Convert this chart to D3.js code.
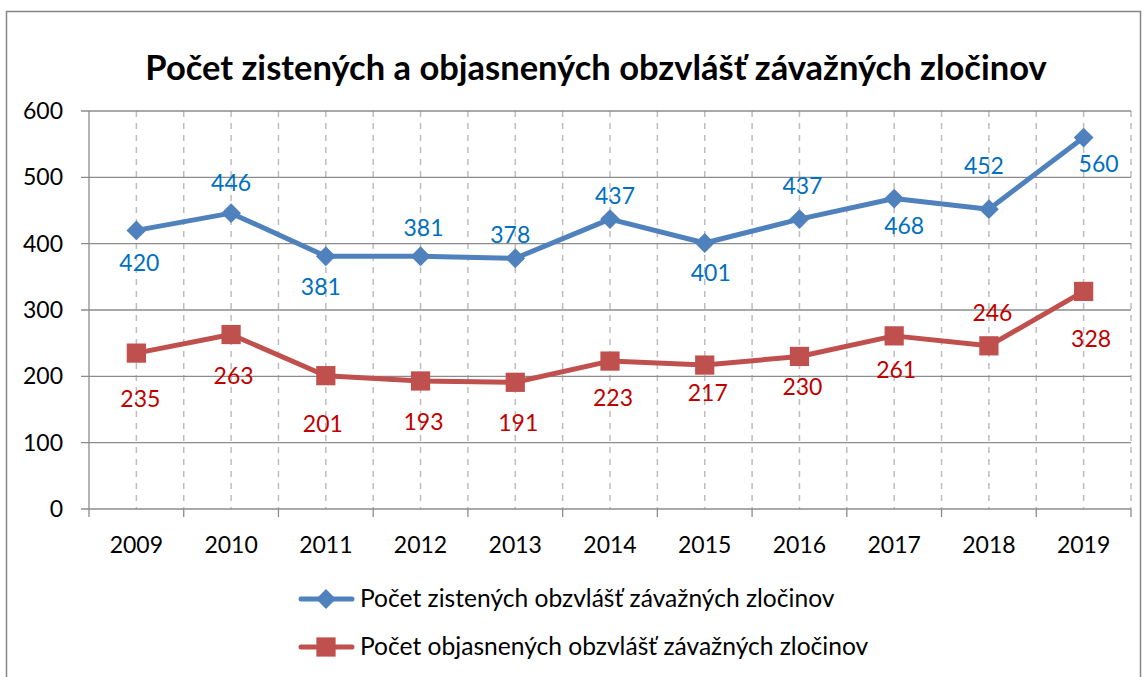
<!DOCTYPE html>
<html>
<head>
<meta charset="utf-8">
<script src="https://cdn.jsdelivr.net/npm/d3@7"></script>
<style>
  body { margin: 0; background: #fff; }
  svg text { font-family: Lato, "Open Sans", sans-serif; }
</style>
</head>
<body>
<div id="chart"></div>
<script>
const years = ["2009", "2010", "2011", "2012", "2013", "2014", "2015", "2016", "2017", "2018", "2019"];
const zistene = [420, 446, 381, 381, 378, 437, 401, 437, 468, 452, 560];
const objasnene = [235, 263, 201, 193, 191, 223, 217, 230, 261, 246, 328];
const yTicks = [0, 100, 200, 300, 400, 500, 600];
const title = "Počet zistených a objasnených obzvlášť závažných zločinov";
const seriesNames = ["Počet zistených obzvlášť závažných zločinov", "Počet objasnených obzvlášť závažných zločinov"];

// data label placement (label centre relative to its point, px) - labels were hand placed in the original
const zisteneLabelDx = [3, 0, -5, 3, -5, 5, 6, 3, 10, -5, 15];
const zisteneLabelDy = [33, -30.5, 30.5, -28, -23.5, -23, 30, -33.5, 27, -43, 26];
const objasneneLabelDx = [4, 2.5, -3, 3, 3, 3, 3, 3, 2, 3.5, 7.5];
const objasneneLabelDy = [46, 41.5, 48.5, 41.5, 40.5, 36.5, 28, 30.5, 34.5, -33, 47.5];

const width = 1145, height = 677;
const plotLeft = 89, plotRight = 1131, plotTop = 111, plotBottom = 509;

const svg = d3.select("#chart").append("svg")
    .attr("width", width)
    .attr("height", height);

// outer frame
svg.append("rect")
    .attr("x", 6.5).attr("y", 11.5)
    .attr("width", 1134).attr("height", 700)
    .attr("fill", "none")
    .attr("stroke", "#868686")
    .attr("stroke-width", 1.5);

svg.append("text")
    .attr("x", 596).attr("y", 80)
    .attr("text-anchor", "middle")
    .attr("font-size", 34.5)
    .attr("font-weight", "bold")
    .text(title);

const x = d3.scaleBand().domain(years).range([plotLeft, plotRight]);
const y = d3.scaleLinear().domain([0, 600]).range([plotBottom, plotTop]);
const cx = d => x(d) + x.bandwidth() / 2;

// vertical dashed gridlines at category centers and boundaries
const vLines = years.map(cx).concat(years.map(d => x(d)).slice(1), [plotRight]);
svg.append("g").selectAll("line").data(vLines).enter().append("line")
    .attr("x1", d => d).attr("x2", d => d)
    .attr("y1", plotTop).attr("y2", plotBottom)
    .attr("stroke", "#bdbdbd")
    .attr("stroke-width", 1.5)
    .attr("stroke-dasharray", "6,6");

// horizontal gridlines
svg.append("g").selectAll("line").data(yTicks).enter().append("line")
    .attr("x1", plotLeft - 8).attr("x2", plotRight)
    .attr("y1", d => y(d)).attr("y2", d => y(d))
    .attr("stroke", "#8c8c8c")
    .attr("stroke-width", 1.3);

// y axis line
svg.append("line")
    .attr("x1", plotLeft).attr("x2", plotLeft)
    .attr("y1", plotTop).attr("y2", plotBottom + 8)
    .attr("stroke", "#8c8c8c").attr("stroke-width", 1.3);

// x axis ticks at boundaries
svg.append("g").selectAll("line").data(years.slice(1).map(d => x(d)).concat([plotRight])).enter().append("line")
    .attr("x1", d => d).attr("x2", d => d)
    .attr("y1", plotBottom).attr("y2", plotBottom + 8)
    .attr("stroke", "#8c8c8c").attr("stroke-width", 1.3);

svg.append("g").selectAll("text").data(yTicks).enter().append("text")
    .attr("x", plotLeft - 26).attr("y", d => y(d) + 8)
    .attr("text-anchor", "end")
    .attr("font-size", 23)
    .text(d => d);

svg.append("g").selectAll("text").data(years).enter().append("text")
    .attr("x", cx).attr("y", plotBottom + 44)
    .attr("text-anchor", "middle")
    .attr("font-size", 23)
    .text(d => d);

const line = d3.line().x((d, i) => cx(years[i])).y(d => y(d));

const diamond = d3.symbol().type(d3.symbolDiamond2).size(250);
const square = d3.symbol().type(d3.symbolSquare).size(370);

function drawSeries(values, labelDx, labelDy, lineColor, labelColor, marker) {
    svg.append("path")
        .datum(values)
        .attr("fill", "none")
        .attr("stroke", lineColor)
        .attr("stroke-width", 5)
        .attr("stroke-linejoin", "round")
        .attr("d", line);
    svg.append("g").selectAll("path").data(values).enter().append("path")
        .attr("transform", (d, i) => `translate(${cx(years[i])},${y(d)})`)
        .attr("fill", lineColor)
        .attr("d", marker);
    svg.append("g").selectAll("text").data(values).enter().append("text")
        .attr("x", (d, i) => cx(years[i]) + labelDx[i])
        .attr("y", (d, i) => y(d) + labelDy[i] + 8)
        .attr("text-anchor", "middle")
        .attr("font-size", 23)
        .attr("fill", labelColor)
        .text(d => d);
}

drawSeries(objasnene, objasneneLabelDx, objasneneLabelDy, "#C0504D", "#C00000", square);
drawSeries(zistene, zisteneLabelDx, zisteneLabelDy, "#4F81BD", "#0070C0", diamond);

// legend
const legend = svg.append("g");
const legendRows = [
    { name: seriesNames[0], color: "#4F81BD", marker: diamond, y: 599 },
    { name: seriesNames[1], color: "#C0504D", marker: square, y: 647 }
];
legendRows.forEach(r => {
    legend.append("line")
        .attr("x1", 301).attr("x2", 352)
        .attr("y1", r.y).attr("y2", r.y)
        .attr("stroke", r.color).attr("stroke-width", 5)
        .attr("stroke-linecap", "round");
    legend.append("path")
        .attr("transform", `translate(326,${r.y})`)
        .attr("fill", r.color)
        .attr("d", r.marker);
    legend.append("text")
        .attr("x", 360).attr("y", r.y + 8)
        .attr("font-size", 24.6)
        .text(r.name);
});
</script>
</body>
</html>
